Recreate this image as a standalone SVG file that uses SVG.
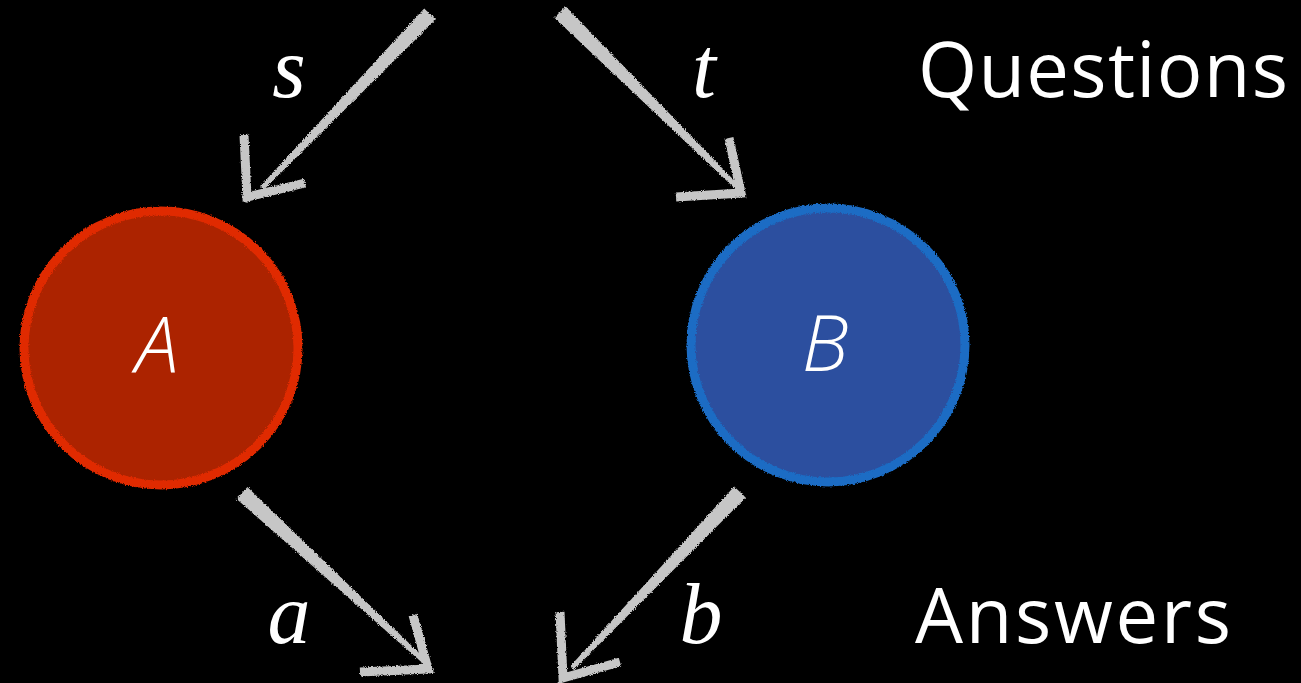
<svg xmlns="http://www.w3.org/2000/svg" width="1301" height="683" viewBox="0 0 1301 683">
<defs>
<filter id="rough" x="-10%" y="-10%" width="120%" height="120%">
<feTurbulence type="fractalNoise" baseFrequency="0.9" numOctaves="2" seed="3" result="n"/>
<feDisplacementMap in="SourceGraphic" in2="n" scale="3.5" xChannelSelector="R" yChannelSelector="G"/>
</filter>
<style>
.shaft{fill:#c6c6c6;filter:url(#rough)}
.head{fill:none;stroke:#c6c6c6;stroke-width:9;stroke-linejoin:miter;filter:url(#rough)}
.var{font-family:"Liberation Serif",serif;font-style:italic;font-size:86px;fill:#fff;text-anchor:middle}
.node{font-family:"Open Sans","DejaVu Sans",sans-serif;font-style:italic;font-weight:300;font-size:78px;fill:#fff;text-anchor:middle}
.lbl{font-family:"Open Sans","DejaVu Sans",sans-serif;font-size:76px;fill:#fff}
</style>
</defs>
<rect width="1301" height="683" fill="#000"/>
<g id="connectors">
<g id="arrow-s">
<polygon class="shaft" points="424.2,8.4 435.8,19.6 263.8,189.7 260.2,186.3"/>
<polyline class="head" points="244,135 247,197 305,183"/>
</g>
<g id="arrow-t">
<polygon class="shaft" points="554.4,17.7 565.6,6.3 739.8,186.2 736.2,189.8"/>
<polyline class="head" points="729,138 741,193 676,197"/>
</g>
<g id="arrow-a">
<polygon class="shaft" points="236.6,498.9 247.4,487.1 426.7,660.2 423.3,663.8"/>
<polyline class="head" points="413,615 428,669 360,672"/>
</g>
<g id="arrow-b">
<polygon class="shaft" points="734.2,486.5 745.8,497.5 573.8,669.7 570.2,666.3"/>
<polyline class="head" points="560,612 563,678 620,662"/>
</g>
</g>
<g id="node-A">
<circle cx="161" cy="348" r="137" fill="#ac2300"/>
<circle cx="161" cy="348" r="137" fill="none" stroke="#e02a00" stroke-width="9" filter="url(#rough)"/>
<text class="node" x="157" y="373">A</text>
</g>
<g id="node-B">
<circle cx="828" cy="345" r="137" fill="#2c4f9f"/>
<circle cx="828" cy="345" r="137" fill="none" stroke="#1a6cc4" stroke-width="9" filter="url(#rough)"/>
<text class="node" x="825" y="371">B</text>
</g>
<g id="labels">
<text class="var" x="289" y="97">s</text>
<text class="var" x="704" y="97">t</text>
<text class="var" x="289" y="643">a</text>
<text class="var" x="701" y="643">b</text>
<text class="lbl" x="918" y="97" textLength="370" lengthAdjust="spacing">Questions</text>
<text class="lbl" x="915" y="643" textLength="316" lengthAdjust="spacing">Answers</text>
</g>
</svg>
